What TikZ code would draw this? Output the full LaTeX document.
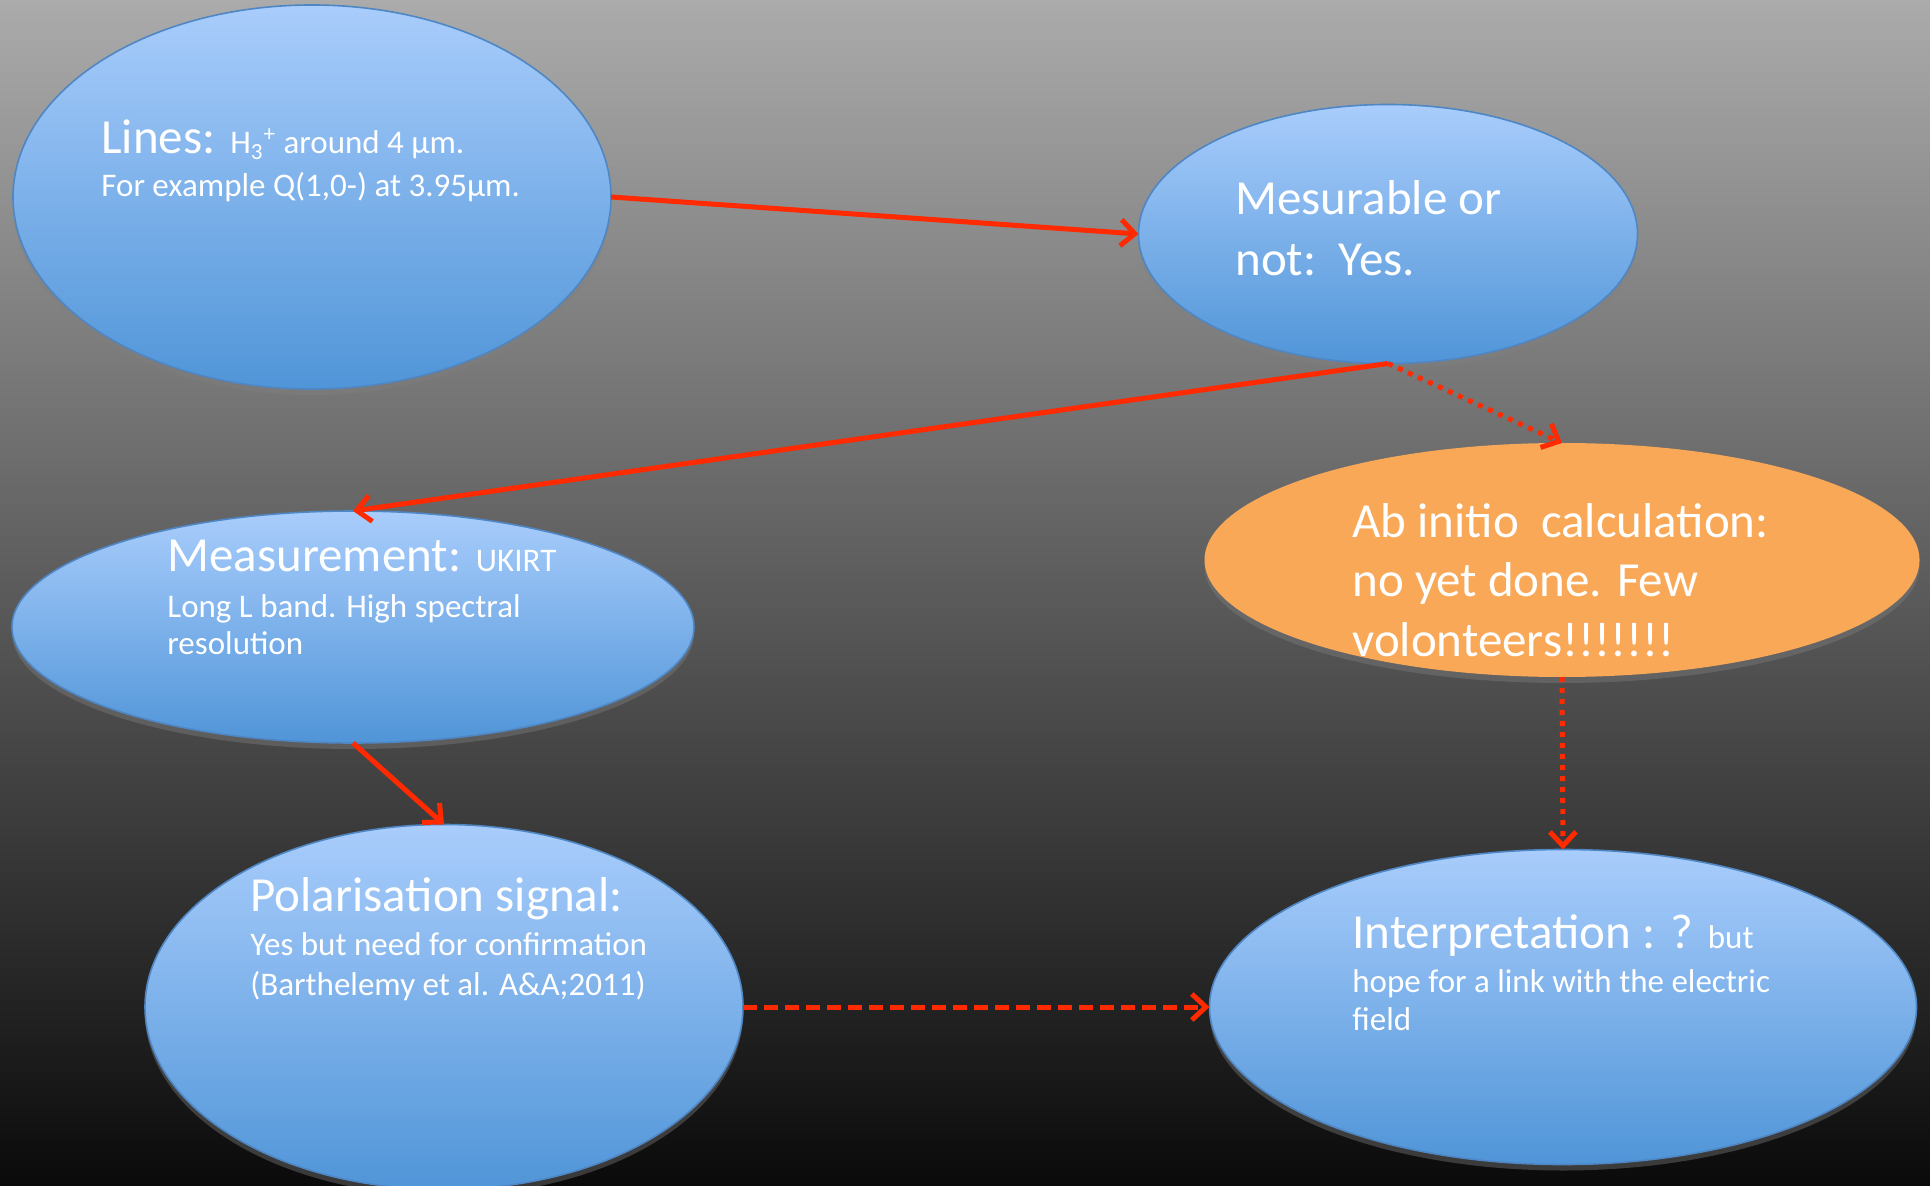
\documentclass[tikz,border=0pt]{standalone}
\usepackage{fontspec}
\setmainfont{Carlito}
\usetikzlibrary{arrows.meta,shapes.geometric,shadows}

\definecolor{bluetop}{HTML}{A9CDFC}
\definecolor{bluebot}{HTML}{5095D8}
\definecolor{blueline}{HTML}{4F86C4}
\definecolor{orangefill}{HTML}{F9A857}
\definecolor{arrowred}{HTML}{FF2A00}
\definecolor{bgtop}{HTML}{ABABAB}
\definecolor{bgbot}{HTML}{0A0A0A}

\newcommand{\bigtxt}{\fontsize{24.5}{29}\selectfont}
\newcommand{\smalltxt}{\fontsize{16.5}{19.5}\selectfont}
\newcommand{\rows}[2]{\vtop{\baselineskip=#1\lineskiplimit=-100pt\halign{##\hfil\cr#2\crcr}}}

\tikzset{
  bubble/.style={ellipse, draw=blueline, line width=0.8pt,
    top color=bluetop, bottom color=bluebot, inner sep=0pt, outer sep=0pt,
    drop shadow={shadow xshift=0pt, shadow yshift=-3pt, opacity=0.4}},
  calcbubble/.style={ellipse, fill=orangefill, inner sep=0pt, outer sep=0pt,
    drop shadow={shadow xshift=0pt, shadow yshift=-3pt, opacity=0.4}},
  bubbletext/.style={text=white, inner sep=0pt, anchor=base west},
  link/.style={draw=arrowred, line width=2.5pt,
    -{Straight Barb[length=7pt,width=13pt]}},
  dotlink/.style={dash pattern=on 2.5pt off 3pt},
  dashlink/.style={dash pattern=on 7pt off 3.5pt},
}

\begin{document}
\begin{tikzpicture}[x=0.5pt,y=-0.5pt]

  % fond
  \shade[top color=bgtop, bottom color=bgbot] (0,0) rectangle (1930,1186);
  \useasboundingbox (0,0) rectangle (1930,1186);

  % bulles
  \node[bubble, minimum width=299pt, minimum height=192pt] (lines) at (312,197) {};
  \node[bubble, minimum width=249.5pt, minimum height=129.5pt] (mesur) at (1388,234) {};
  \node[bubble, minimum width=341pt, minimum height=116pt] (meas) at (353,627) {};
  \node[calcbubble, minimum width=357.5pt, minimum height=117pt] (abinit) at (1562,560) {};
  \node[bubble, minimum width=299pt, minimum height=182.5pt] (polar) at (444,1007) {};
  \node[bubble, minimum width=353.5pt, minimum height=157.5pt] (interp) at (1563,1007) {};

  % fleches
  \draw[link] (lines.east) -- (mesur.west);
  \draw[link] (mesur.south) -- (meas.north);
  \draw[link, dotlink] (mesur.south) -- (abinit.north);
  \draw[link, dotlink] (abinit.south) -- (interp.north);
  \draw[link] (meas.south) -- (polar.north);
  \draw[link, dashlink] (polar.east) -- (interp.west);

  % textes
  \node[bubbletext] (linesT) at (101,154)
    {\rows{21.5pt}{\bigtxt Lines: \smalltxt H\textsubscript{3}\textsuperscript{+} around 4 µm.\cr
      \smalltxt For example Q(1,0-) at 3.95µm.}};
  \node[bubbletext] (mesurT) at (1235,215)
    {\rows{30.5pt}{\bigtxt Mesurable or\cr \bigtxt not:\ \ Yes.}};
  \node[bubbletext] (measT) at (167,571)
    {\rows{18.5pt}{\bigtxt Measurement: \smalltxt UKIRT\cr\noalign{\vskip 4.5pt}
      \smalltxt Long L band. High spectral\cr \smalltxt resolution}};
  \node[bubbletext] (abinitT) at (1352,538)
    {\rows{29.5pt}{\bigtxt Ab initio\ \ calculation:\cr \bigtxt no yet done. Few\cr
      \bigtxt volonteers!!!!!!!}};
  \node[bubbletext] (polarT) at (250,911)
    {\rows{20pt}{\bigtxt Polarisation signal:\cr\noalign{\vskip 2pt}
      \smalltxt Yes but need for confirmation\cr \smalltxt (Barthelemy et al. A\&A;2011)}};
  \node[bubbletext] (interpT) at (1352,948)
    {\rows{19pt}{\bigtxt Interpretation : ? \smalltxt but\cr\noalign{\vskip 3pt}
      \smalltxt hope for a link with the electric\cr \smalltxt field}};

\end{tikzpicture}
\end{document}
